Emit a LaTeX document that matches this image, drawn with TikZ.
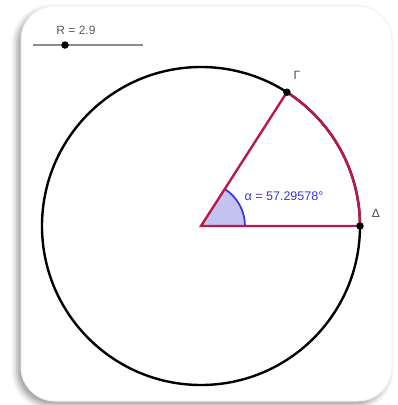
\documentclass[tikz,border=0pt]{standalone}
\usepackage{fontspec}
\setmainfont{Liberation Sans}
\usetikzlibrary{calc,shadows.blur}
\definecolor{crim}{RGB}{185,25,75}
\definecolor{abl}{RGB}{55,55,215}
\definecolor{afill}{RGB}{195,195,240}
\definecolor{slgray}{RGB}{140,140,140}
\begin{document}
\begin{tikzpicture}[x=1pt,y=-1pt,
  frame/.style={draw=black!6,line width=1pt,fill=white,rounded corners=34pt,
    blur shadow={shadow xshift=-4pt,shadow yshift=-4pt,shadow blur radius=6pt,shadow opacity=40}},
  circ/.style={draw=black,line width=2.4pt},
  sect/.style={draw=crim,line width=2.4pt},
  dotp/.style={circle,fill=black,inner sep=0pt,minimum size=7.5pt},
  lbl/.style={font=\fontsize{12}{14}\selectfont,text=black!70},
  albl/.style={font=\fontsize{12.5}{14}\selectfont,text=abl}]
\useasboundingbox (0,0) rectangle (398,405);
\path[frame] (21,6) rectangle (392,401);
% slider
\coordinate (s1) at (33,45);
\coordinate (s2) at (143,45);
\draw[slgray,line width=1.6pt] (s1) -- (s2);
\node[dotp] (sd) at (65,45) {};
\node[lbl,text=black!65] (rl) at (76,30) {R = 2.9};
% circle
\coordinate (O) at (201,226);
\draw[circ] (O) circle[radius=159];
\coordinate (D) at (360,226);
\coordinate (G) at ($(O)+(57.29578:159 and -159)$);
% angle
\fill[afill] (O) -- ++(44,0) arc[start angle=0,end angle=-57.29578,radius=44] -- cycle;
\draw[abl,line width=1.7pt] ($(O)+(44,0)$) arc[start angle=0,end angle=-57.29578,radius=44];
% sector
\draw[sect,line join=miter] (G) -- (O) -- (D) arc[start angle=0,end angle=-57.29578,radius=159];
\node[dotp] (Dn) at (D) {};
\node[dotp] (Gn) at (G) {};
\node[lbl] (Gl) at (297,75) {Γ};
\node[lbl] (Dl) at (376,213) {Δ};
\node[albl] (al) at (284,196) {α = 57.29578°};
\end{tikzpicture}
\end{document}
